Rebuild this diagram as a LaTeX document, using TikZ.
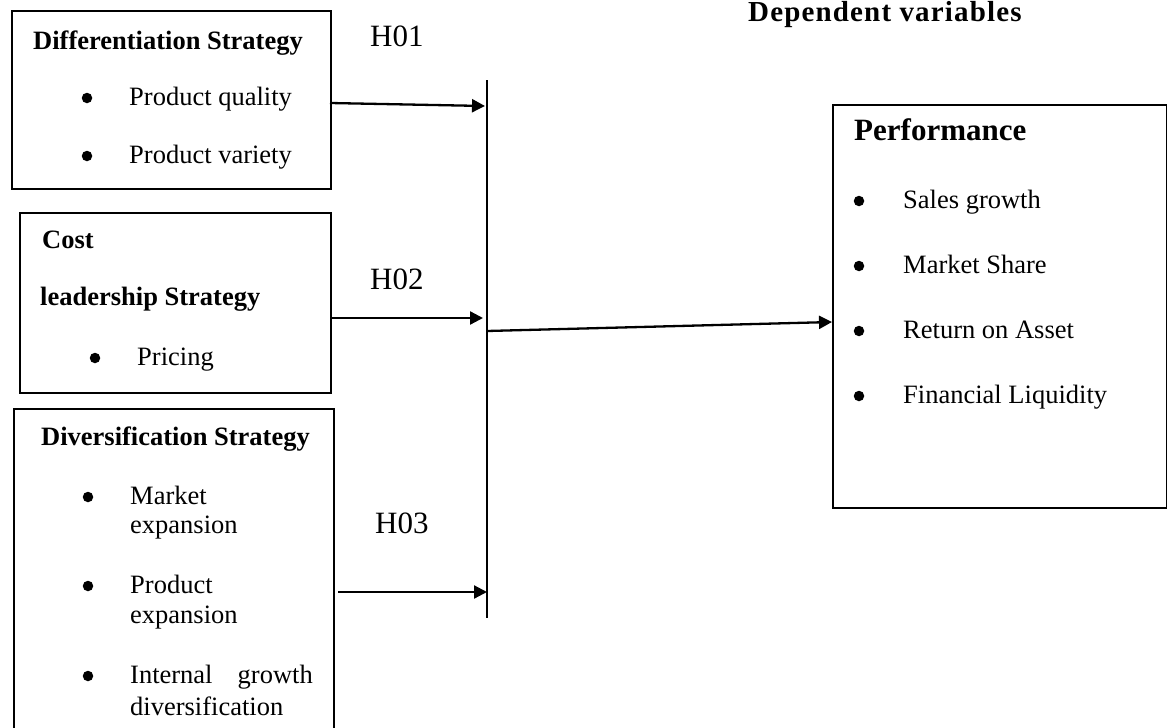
\documentclass[tikz,border=0pt]{standalone}
\usepackage{fontspec}
\setmainfont{Liberation Serif}
\usetikzlibrary{arrows.meta}
\tikzset{
  box/.style={draw, line width=1.5pt, anchor=north west, inner sep=0pt},
  txt/.style={anchor=base west, inner sep=0pt, font=\fontsize{26.5}{30}\selectfont},
  txtr/.style={anchor=base east, inner sep=0pt, font=\fontsize{26.5}{30}\selectfont},
  bold/.style={anchor=base west, inner sep=0pt, font=\fontsize{26.5}{30}\selectfont\bfseries},
  hyp/.style={anchor=base west, inner sep=0pt, font=\fontsize{31}{34}\selectfont},
  bul/.style={circle, fill=black, inner sep=0pt, minimum size=10.5pt},
  arr/.style={-{Triangle[length=13pt,width=13pt]}, line width=2.3pt},
  bar/.style={line width=2.3pt}
}
\begin{document}
\begin{tikzpicture}[x=1pt,y=-1pt]
\clip (0,0) rectangle (1167,728);
\fill[white] (0,0) rectangle (1167,728);

% boxes
\node[box, minimum width=319pt, minimum height=178pt] (b1) at (11,10) {};
\node[box, minimum width=311pt, minimum height=180pt] (b2) at (19,212) {};
\node[box, minimum width=320pt, minimum height=345pt] (b3) at (13,408) {};
\node[box, minimum width=334pt, minimum height=403pt] (b4) at (832,104) {};

% box 1
\node[bold] (t1) at (33,49) {Differentiation Strategy};
\node[bul] (u11) at (87,98) {};
\node[txt] (t11) at (129,105) {Product quality};
\node[bul] (u12) at (87,156) {};
\node[txt] (t12) at (129,163) {Product variety};

% box 2
\node[bold] (t2a) at (42,248) {Cost};
\node[bold] (t2b) at (40,305) {leadership Strategy};
\node[bul] (u21) at (95,358) {};
\node[txt] (t21) at (137,365) {Pricing};

% box 3
\node[bold] (t3) at (41,445) {Diversification Strategy};
\node[bul] (u31) at (88,497) {};
\node[txt] (t31a) at (130,504) {Market};
\node[txt] (t31b) at (130,533) {expansion};
\node[bul] (u32) at (88,586) {};
\node[txt] (t32a) at (130,593) {Product};
\node[txt] (t32b) at (130,623) {expansion};
\node[bul] (u33) at (88,676) {};
\node[txt] (t33a) at (130,683) {Internal};
\node[txtr] (t33c) at (313,683) {growth};
\node[txt] (t33b) at (130,715) {diversification};

% performance
\node[anchor=base west, inner sep=0pt, font=\fontsize{29}{32}\selectfont\bfseries\addfontfeature{LetterSpace=4}] (dv) at (748,21) {Dependent variables};
\node[anchor=base west, inner sep=0pt, font=\fontsize{31}{34}\selectfont\bfseries] (t4) at (854,140) {Performance};
\node[bul] (u41) at (859,201) {};
\node[txt] (t41) at (903,208) {Sales growth};
\node[bul] (u42) at (859,266) {};
\node[txt] (t42) at (903,273) {Market Share};
\node[bul] (u43) at (859,331) {};
\node[txt] (t43) at (903,338) {Return on Asset};
\node[bul] (u44) at (859,396) {};
\node[txt] (t44) at (903,403) {Financial Liquidity};

% hypotheses
\node[hyp] (h1) at (370,46) {H01};
\node[hyp] (h2) at (370,289) {H02};
\node[hyp] (h3) at (375,533) {H03};

% bar and arrows
\coordinate (bartop) at (487,80);
\coordinate (barbot) at (487,618);
\draw[bar] (bartop) -- (barbot);

\coordinate (a1s) at (330,103);
\coordinate (a1e) at (485,106);
\coordinate (a2s) at (330,318);
\coordinate (a2e) at (483,318);
\coordinate (a3s) at (338,592);
\coordinate (a3e) at (487,592);
\coordinate (a4s) at (487,331);
\coordinate (a4e) at (832,322);
\draw[arr] (a1s) -- (a1e);
\draw[arr] (a2s) -- (a2e);
\draw[arr] (a3s) -- (a3e);
\draw[arr] (a4s) -- (a4e);
\end{tikzpicture}
\end{document}
